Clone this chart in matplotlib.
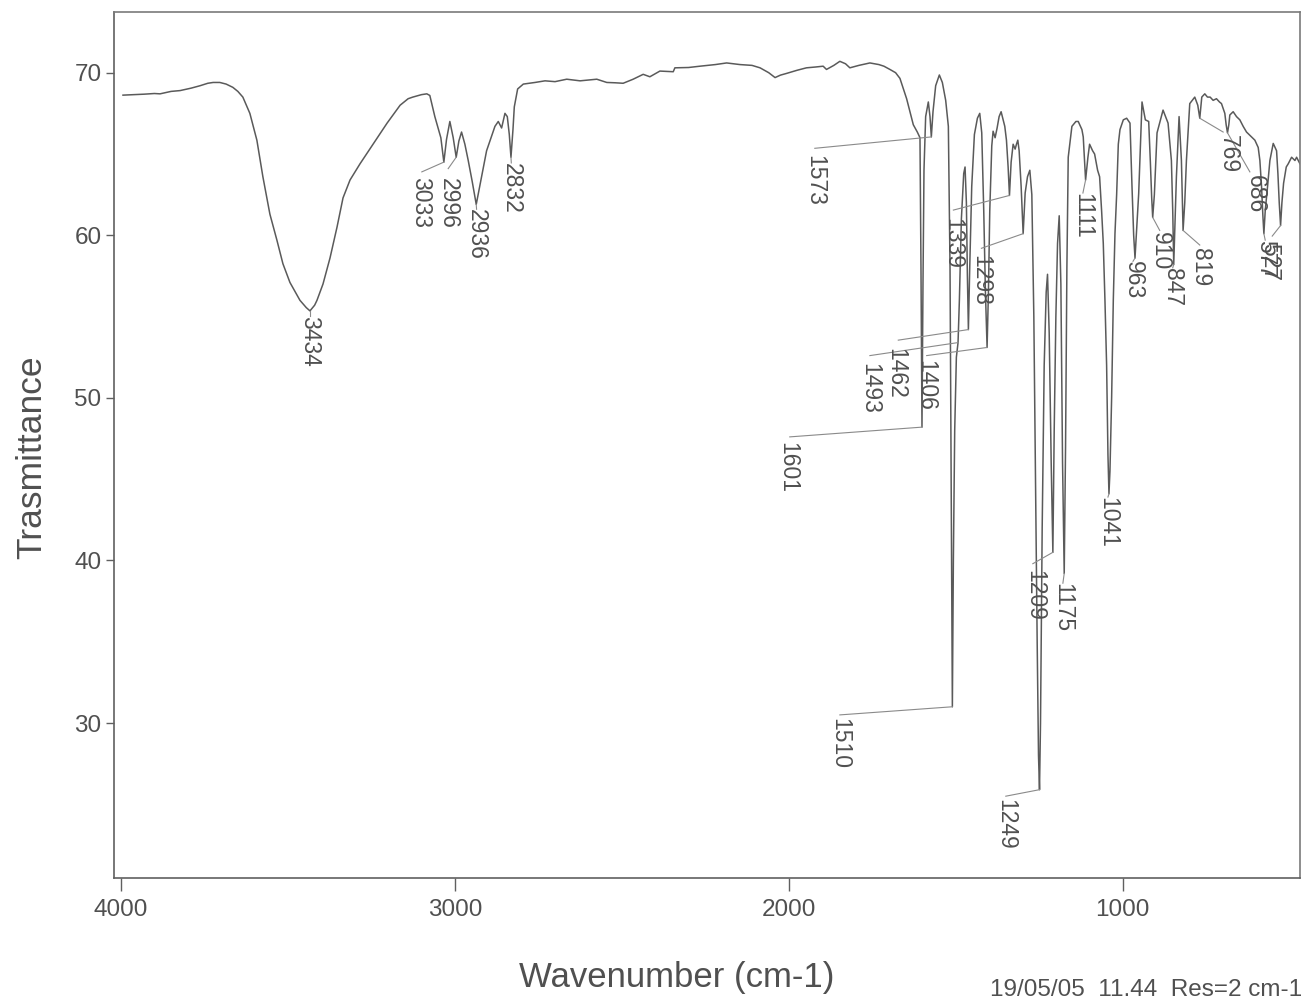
import matplotlib.pyplot as plt

# ── IR 스펙트럼 (wavenumber / %T) ─────────────────
wavenumber = [
    3994, 3960, 3930, 3900, 3883, 3850, 3823, 3790, 3763, 3740, 3724, 3704, 3685, 3665,
    3650, 3635, 3614, 3593, 3575, 3554, 3533, 3515, 3494, 3464, 3445, 3434, 3420, 3413,
    3395, 3374, 3353, 3335, 3314, 3284, 3245, 3203, 3164, 3140, 3126, 3100, 3084, 3075,
    3060, 3042, 3033, 3025, 3015, 3005, 2996, 2988, 2980, 2970, 2960, 2948, 2936, 2920,
    2905, 2880, 2870, 2860, 2850, 2843, 2837, 2832, 2826, 2822, 2812, 2795, 2760, 2730,
    2700, 2665, 2625, 2575, 2545, 2520, 2496, 2466, 2436, 2416, 2386, 2346, 2341, 2300,
    2266, 2220, 2186, 2146, 2110, 2086, 2060, 2041, 2025, 2006, 1975, 1947, 1920, 1897,
    1887, 1865, 1847, 1830, 1817, 1790, 1757, 1730, 1715, 1697, 1680, 1667, 1647, 1627,
    1615, 1607, 1604, 1601, 1598, 1595, 1590, 1582, 1577, 1573, 1568, 1560, 1549, 1540,
    1530, 1522, 1517, 1513, 1510, 1507, 1503, 1498, 1493, 1489, 1483, 1476, 1472, 1468,
    1465, 1462, 1458, 1452, 1444, 1435, 1428, 1422, 1416, 1411, 1406, 1402, 1398, 1392,
    1388, 1382, 1376, 1370, 1364, 1358, 1353, 1348, 1343, 1339, 1334, 1328, 1322, 1318,
    1314, 1310, 1304, 1298, 1292, 1285, 1278, 1272, 1266, 1261, 1256, 1252, 1249, 1246,
    1241, 1235, 1229, 1225, 1220, 1214, 1209, 1205, 1200, 1195, 1190, 1185, 1180, 1175,
    1171, 1167, 1163, 1152, 1140, 1133, 1122, 1118, 1111, 1104, 1099, 1090, 1084, 1075,
    1069, 1063, 1058, 1053, 1048, 1044, 1041, 1038, 1033, 1028, 1023, 1018, 1013, 1008,
    998, 988, 978, 972, 967, 963, 959, 952, 946, 942, 932, 922, 917, 913,
    910, 905, 897, 879, 864, 854, 850, 847, 843, 839, 831, 824, 819, 814,
    809, 799, 784, 775, 769, 763, 754, 746, 738, 729, 719, 710, 704, 694,
    690, 686, 682, 679, 669, 659, 649, 639, 629, 614, 604, 594, 589, 584,
    580, 577, 573, 566, 559, 549, 539, 535, 531, 527, 523, 518, 510, 504,
    494, 484, 479, 469,
]
transmittance = [
    68.62, 68.65, 68.68, 68.72, 68.70, 68.85, 68.90, 69.05, 69.20, 69.35, 69.40, 69.40, 69.30, 69.10,
    68.85, 68.50, 67.50, 65.85, 63.60, 61.30, 59.70, 58.25, 57.10, 56.00, 55.55, 55.35, 55.70, 56.00,
    57.00, 58.60, 60.50, 62.30, 63.40, 64.40, 65.60, 66.90, 68.00, 68.40, 68.50, 68.65, 68.70, 68.60,
    67.30, 66.00, 64.50, 65.90, 67.00, 66.00, 64.80, 65.80, 66.35, 65.60, 64.60, 63.30, 61.90, 63.60,
    65.20, 66.70, 67.00, 66.60, 67.50, 67.30, 66.20, 64.80, 66.50, 67.90, 69.00, 69.30, 69.40, 69.50,
    69.45, 69.60, 69.50, 69.60, 69.40, 69.38, 69.35, 69.60, 69.90, 69.75, 70.10, 70.06, 70.30, 70.32,
    70.40, 70.50, 70.60, 70.50, 70.45, 70.30, 70.00, 69.70, 69.85, 69.96, 70.15, 70.30, 70.35, 70.40,
    70.20, 70.45, 70.70, 70.55, 70.30, 70.45, 70.60, 70.50, 70.40, 70.20, 70.00, 69.65, 68.40, 66.80,
    66.35, 66.00, 58.00, 48.20, 57.00, 64.00, 67.30, 68.20, 67.30, 66.05, 67.60, 69.20, 69.86, 69.40,
    68.30, 66.70, 58.00, 42.00, 31.00, 40.00, 48.00, 52.50, 53.40, 56.00, 61.00, 63.80, 64.20, 62.00,
    57.50, 54.20, 58.00, 63.00, 66.20, 67.20, 67.50, 66.30, 61.50, 56.50, 53.10, 56.50, 61.50, 65.50,
    66.40, 66.00, 66.60, 67.30, 67.60, 67.10, 66.70, 65.85, 64.20, 62.45, 64.50, 65.60, 65.30, 65.60,
    65.85, 65.20, 63.00, 60.10, 62.60, 63.60, 64.00, 62.50, 55.00, 45.00, 35.00, 28.00, 25.90, 30.00,
    42.00, 52.00, 56.50, 57.60, 54.00, 46.00, 40.50, 48.00, 55.00, 59.50, 61.20, 57.00, 46.00, 39.20,
    47.00, 58.00, 64.80, 66.70, 67.00, 67.00, 66.50, 66.05, 63.40, 64.80, 65.60, 65.20, 65.00, 64.00,
    63.60, 61.50, 59.50, 56.00, 52.00, 46.50, 44.10, 45.50, 50.00, 56.00, 60.10, 62.50, 65.60, 66.50,
    67.10, 67.20, 66.90, 63.00, 60.00, 58.60, 60.00, 62.55, 66.00, 68.20, 67.10, 67.00, 64.50, 62.30,
    61.10, 62.50, 66.30, 67.70, 66.90, 64.60, 61.50, 58.20, 61.00, 63.60, 67.30, 64.60, 60.30, 62.00,
    64.60, 68.10, 68.50, 68.00, 67.20, 68.50, 68.70, 68.50, 68.50, 68.30, 68.40, 68.20, 68.10, 67.50,
    66.80, 66.30, 66.80, 67.40, 67.60, 67.30, 67.10, 66.70, 66.35, 66.05, 65.85, 65.40, 64.60, 63.00,
    61.20, 60.10, 61.50, 63.00, 64.60, 65.65, 65.20, 63.80, 62.00, 60.60, 62.00, 63.20, 64.20, 64.40,
    64.80, 64.60, 64.80, 64.40,
]

# ── 피크 라벨 ──────────────────────────────────────
peak_wn = [3434, 3033, 2996, 2936, 2832, 1601, 1573, 1510, 1493, 1462, 1406, 1339, 1298,
           1249, 1209, 1175, 1111, 1041, 963, 910, 847, 819, 769, 686, 577, 527]

# 라벨 위치 (글자 상단 중앙) 와 지시선 끝점, 데이터 좌표
label_xy = [(3434, 55.05), (3102, 63.6), (3018, 63.5), (2935, 61.6), (2831, 64.45),
            (2002, 47.3), (1922, 64.95), (1847, 30.3), (1757, 52.15), (1681, 53.05),
            (1589, 52.3), (1508, 61.05), (1425, 58.8), (1350, 25.3), (1263, 39.4),
            (1179, 38.6), (1119, 62.6), (1044, 43.9), (969, 58.4), (886, 60.2),
            (850, 58.0), (766, 59.2), (684, 66.15), (601, 63.7), (573, 59.7), (559, 59.5)]
leader_end = [(3434, 55.05), (3099, 63.9), (3020, 64.1), (2935, 61.6), (2831, 64.45),
              (1997, 47.6), (1922, 65.35), (1847, 30.5), (1757, 52.6), (1672, 53.55),
              (1587, 52.6), (1507, 61.55), (1423, 59.2), (1350, 25.5), (1269, 39.8),
              (1179, 38.6), (1119, 62.6), (1044, 43.9), (969, 58.4), (889, 60.3),
              (850, 58.0), (769, 59.4), (699, 66.35), (619, 63.9), (573, 59.7), (552, 59.95)]

x_ticks = [4000, 3000, 2000, 1000]
y_ticks = [30, 40, 50, 60, 70]

ink = '#505050'
plt.rcParams['font.family'] = ['Liberation Sans', 'DejaVu Sans']

fig = plt.figure(figsize=(13.07, 10.05), dpi=100)
ax = fig.add_axes([0.0872, 0.1264, 0.9074, 0.8616])

ax.plot(wavenumber, transmittance, color='#5a5a5a', lw=1.1)

lookup = dict(zip(wavenumber, transmittance))
for w, (lx, ly), (ex, ey) in zip(peak_wn, label_xy, leader_end):
    ax.plot([w, ex], [lookup[w], ey], color='#8a8a8a', lw=0.8)
    ax.text(lx, ly, str(w), rotation=-90, ha='center', va='top',
            fontsize=16.5, color=ink)

ax.set_xlim(4021, 469)
ax.set_ylim(20.47, 73.73)
ax.set_xticks(x_ticks)
ax.set_yticks(y_ticks)
ax.tick_params(axis='both', colors='#606060', labelcolor=ink, labelsize=17.5,
               direction='out', width=1.0)
ax.tick_params(axis='x', length=9, pad=6)
ax.tick_params(axis='y', length=6, pad=3)
for side in ['top', 'right']:
    ax.spines[side].set_color('#7a7a7a')
for side in ['left', 'bottom']:
    ax.spines[side].set_color('#606060')
for s in ax.spines.values():
    s.set_linewidth(1.2)

fig.text(0.518, 0.027, 'Wavenumber (cm-1)', ha='center', va='center', fontsize=25, color=ink)
fig.text(0.0245, 0.545, 'Trasmittance', ha='center', va='center', rotation=90,
         fontsize=25.5, color=ink)
fig.text(0.996, 0.015, '19/05/05  11.44  Res=2 cm-1', ha='right', va='center',
         fontsize=17.5, color=ink)

fig.savefig('out.png', dpi=100)
